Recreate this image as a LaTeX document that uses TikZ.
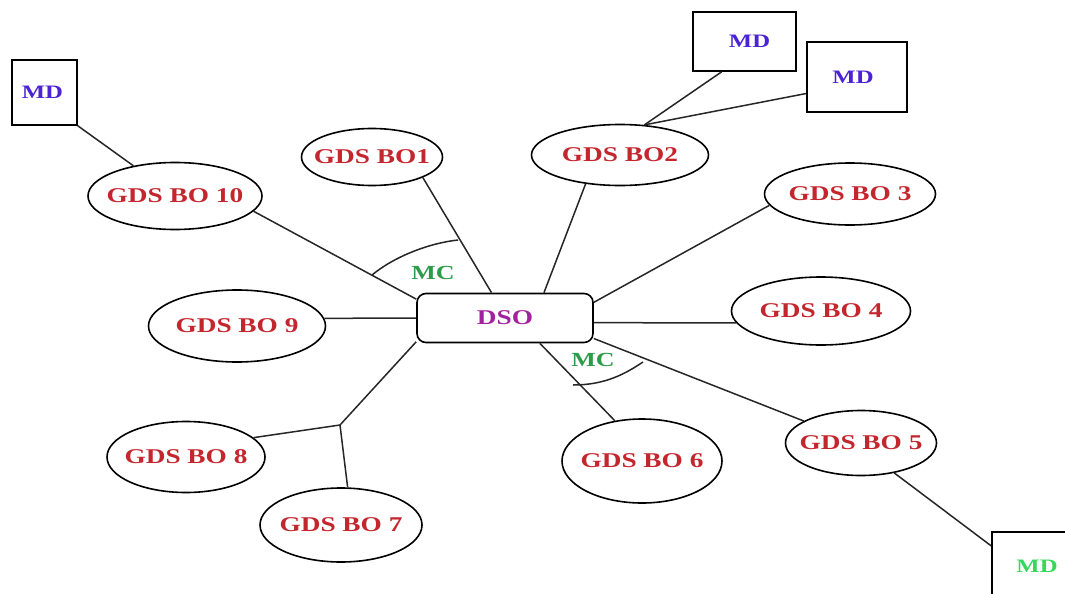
\documentclass[tikz,border=0pt]{standalone}
\usepackage{fontspec}
\newfontfamily\lbl{Liberation Serif}[FakeStretch=1.3]
\usetikzlibrary{shapes.geometric}
\definecolor{bored}{HTML}{C4262E}
\definecolor{mdblue}{HTML}{4B22D4}
\definecolor{mdgreen}{HTML}{35D95A}
\definecolor{mcgreen}{HTML}{2F9A4A}
\definecolor{dsocol}{HTML}{A3209E}
\newcommand{\zw}[1]{\makebox[0pt]{#1}}
\tikzset{
  bo/.style={ellipse, draw, line width=1.6pt, inner sep=0pt, text=bored, font=\lbl\bfseries\fontsize{21}{21}\selectfont},
  mdbox/.style={rectangle, draw, line width=1.6pt, inner sep=0pt, font=\lbl\bfseries\fontsize{19}{19}\selectfont},
  dsobox/.style={rectangle, rounded corners=9pt, draw, line width=1.6pt, inner sep=0pt, minimum width=176pt, minimum height=49pt, text=dsocol, font=\lbl\bfseries\fontsize{21}{21}\selectfont},
  mclabel/.style={text=mcgreen, inner sep=0pt, font=\lbl\bfseries\fontsize{20}{20}\selectfont},
  conn/.style={line width=1.5pt, draw=black!85},
}
\begin{document}
\begin{tikzpicture}[x=1pt,y=-1pt]
\useasboundingbox (0,0) rectangle (1065,594);
\clip (0,0) rectangle (1065,594);
% central node
\node[dsobox] (dso) at (505,318) {DSO};
% GDS BO nodes
\node[bo, minimum width=141pt, minimum height=57pt] (b1) at (372,157) {\zw{GDS BO1}};
\node[bo, minimum width=177pt, minimum height=61pt] (b2) at (620,155) {\zw{GDS BO2}};
\node[bo, minimum width=171pt, minimum height=62pt] (b3) at (850,194) {\zw{GDS BO 3}};
\node[bo, minimum width=179pt, minimum height=68pt] (b4) at (821,311) {\zw{GDS BO 4}};
\node[bo, minimum width=151pt, minimum height=65pt] (b5) at (861,443) {\zw{GDS BO 5}};
\node[bo, minimum width=160pt, minimum height=84pt] (b6) at (642,461) {\zw{GDS BO 6}};
\node[bo, minimum width=162pt, minimum height=74pt] (b7) at (341,525) {\zw{GDS BO 7}};
\node[bo, minimum width=158pt, minimum height=71pt] (b8) at (186,457) {\zw{GDS BO 8}};
\node[bo, minimum width=177pt, minimum height=72pt] (b9) at (237,326) {\zw{GDS BO 9}};
\node[bo, minimum width=174pt, minimum height=67pt] (b10) at (175,196) {\zw{GDS BO 10}};
% MD boxes
\node[mdbox, minimum width=65pt, minimum height=65pt, text=mdblue] (mdtl) at (44.5,92.5) {MD\hspace*{4pt}};
\node[mdbox, minimum width=103pt, minimum height=59pt, text=mdblue] (md1) at (744.5,41.5) {\hspace*{10pt}MD};
\node[mdbox, minimum width=100pt, minimum height=70pt, text=mdblue] (md2) at (857,77) {MD\hspace*{8pt}};
\node[mdbox, minimum width=98pt, minimum height=68pt, text=mdgreen] (mdbr) at (1041,566) {MD\hspace*{8pt}};
% junction
\coordinate (j) at (340,425);
% connectors
\draw[conn] (mdtl.south east) -- (b10.144);
\draw[conn] (b10.-11) -- (dso.168);
\draw[conn] (b1.-22) -- (dso.118);
\draw[conn] (b2.220) -- (dso.33);
\draw[conn] (b2.51) -- (md1.233);
\draw[conn] (b2.51) -- (md2.198);
\draw[conn] (b3.188) -- (dso.10);
\draw[conn] (b4.188) -- (dso.-3);
\draw[conn] (dso.-13) -- (b5.159);
\draw[conn] (b5.-42) -- (mdbr.158);
\draw[conn] (dso.-36) -- (b6.124);
\draw[conn] (b9.5) -- (dso.west);
\draw[conn] (dso.195) -- (j);
\draw[conn] (j) -- (b8.16);
\draw[conn] (j) -- (b7.80);
% MC arcs
\draw[conn] (372,275) .. controls (395,256) and (430,243) .. (458,240);
\draw[conn] (573,385) .. controls (605,385) and (625,374) .. (643,362);
\node[mclabel] (mc1) at (433,273) {MC};
\node[mclabel] (mc2) at (593,360) {MC};
\end{tikzpicture}
\end{document}
